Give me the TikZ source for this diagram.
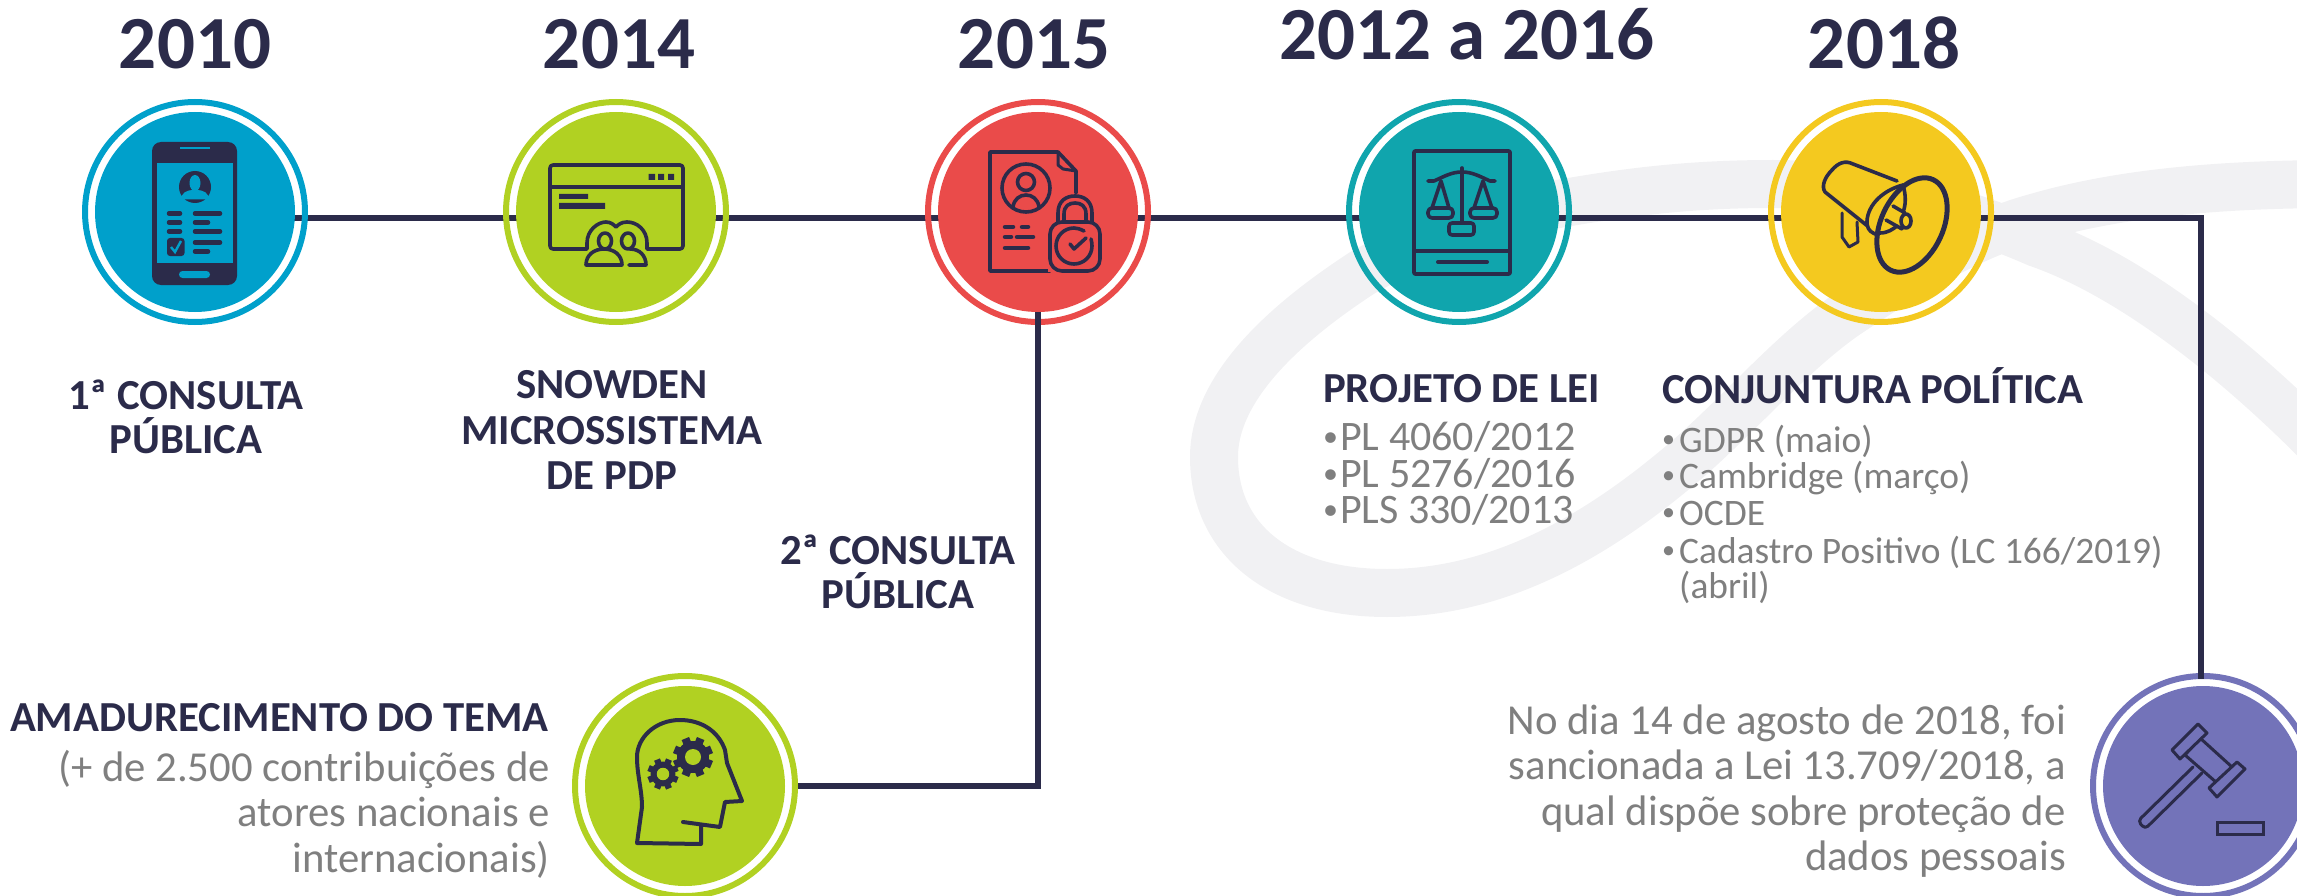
\documentclass[tikz,border=0pt]{standalone}
\usepackage{fontspec}
\setmainfont{Carlito}
\pgfdeclarelayer{back}
\pgfdeclarelayer{lines}
\pgfsetlayers{back,lines,main}
\definecolor{dk}{HTML}{2B2B4A}
\definecolor{gy}{HTML}{7F7F7F}
\definecolor{bandc}{HTML}{F1F1F3}
\definecolor{cblue}{HTML}{00A0CB}
\definecolor{cgreen}{HTML}{B1D122}
\definecolor{cred}{HTML}{EA4B4A}
\definecolor{cteal}{HTML}{10A5AD}
\definecolor{cyel}{HTML}{F4C91F}
\definecolor{cpur}{HTML}{7373B9}
\tikzset{
  x=1pt,y=-1pt,
  ring/.style={circle,draw=#1,line width=6pt,minimum size=220pt,inner sep=0pt,fill=none},
  disc/.style={circle,fill=#1,minimum size=200pt,inner sep=0pt,outer sep=0pt},
  conn/.style={draw=dk,line width=5.8pt},
  ic/.style={draw=dk,line width=3.6pt,line join=round,line cap=round},
  pill/.style={draw=dk,line width=4.5pt,line cap=round},
  yr/.style={anchor=base,inner sep=0pt,text=dk,font=\fontsize{75}{75}\selectfont\bfseries},
  hd/.style={inner sep=0pt,text=dk,font=\fontsize{42.8}{42.8}\selectfont\bfseries},
  bodyA/.style={inner sep=0pt,text=gy,anchor=base west,font=\fontsize{42}{42}\selectfont},
  bodyB/.style={inner sep=0pt,text=gy,anchor=base west,font=\fontsize{37.4}{37.4}\selectfont},
  bodyC/.style={inner sep=0pt,text=gy,anchor=base east,font=\fontsize{42.7}{42.7}\selectfont},
}
\newcommand{\bulA}{\makebox[17pt][l]{\raisebox{4pt}{\fontsize{30}{30}\selectfont •}}}
\newcommand{\bulB}{\makebox[17pt][l]{\raisebox{5pt}{\fontsize{26}{26}\selectfont •}}}
\newcommand{\gearshape}[4]{% x y R fillcolor
  \foreach \a in {0,45,...,315}{
    \fill[dk,rotate around={\a+22.5:(#1,#2)}] (#1-0.2*#3,#2-#3) rectangle (#1+0.2*#3,#2-0.6*#3);
  }
  \fill[dk] (#1,#2) circle[radius=0.8*#3];
  \fill[#4] (#1,#2) circle[radius=0.4*#3];
}
\begin{document}
\begin{tikzpicture}
\useasboundingbox (0,0) rectangle (2297,896);
\clip (0,0) rectangle (2297,896);
% background swoosh
\begin{pgfonlayer}{back}
\draw[bandc,line width=48pt,line cap=butt]
 (2340,465) .. controls (2240,360) and (2130,275) .. (2037,243)
 .. controls (1950,205) and (1860,184) .. (1773,184)
 .. controls (1700,184) and (1640,190) .. (1570,202)
 .. controls (1490,215) and (1420,240) .. (1362,273)
 .. controls (1290,320) and (1214,385) .. (1214,457)
 .. controls (1214,540) and (1280,593) .. (1387,593)
 .. controls (1500,593) and (1600,535) .. (1690,457)
 .. controls (1745,408) and (1790,355) .. (1843,317)
 .. controls (1905,275) and (1970,235) .. (2037,217)
 .. controls (2120,193) and (2220,184) .. (2340,184);
\end{pgfonlayer}
% circles
\foreach \n/\x/\y/\c in {1/195/212/cblue,2/616/212/cgreen,3/1038/212/cred,4/1459/212/cteal,5/1881/212/cyel,6/685/786/cgreen,7/2203/786/cpur}{
  \node[ring=\c] (r\n) at (\x,\y) {};
  \node[disc=\c] (c\n) at (\x,\y) {};
}
% connectors
\begin{pgfonlayer}{lines}
\draw[conn] ([yshift=-6pt]c1.center) -- ([yshift=-6pt]c2.center);
\draw[conn] ([yshift=-6pt]c2.center) -- ([yshift=-6pt]c3.center);
\draw[conn] ([yshift=-6pt]c3.center) -- ([yshift=-6pt]c4.center);
\draw[conn] ([yshift=-6pt]c4.center) -- ([yshift=-6pt]c5.center);
\draw[conn] ([yshift=-6pt]c5.center) -- ([yshift=-6pt]r5.east);
\end{pgfonlayer}
\draw[conn] (c3.south) |- (r6.east);
\coordinate (top7) at ([xshift=-2pt]r7.north);
\draw[conn,shorten >=-6pt,line join=miter] ([yshift=-6pt]r5.east) -| (top7);
% years
\node[yr] (y1) at (195,69) {2010};
\node[yr] (y2) at (619,69) {2014};
\node[yr] (y3) at (1034,69) {2015};
\node[yr] (y4) at (1467,60) {2012 a 2016};
\node[yr] (y5) at (1884,69) {2018};
% labels
\node[hd,anchor=base] (l1a) at (186,409) {1ª CONSULTA};
\node[hd,anchor=base] (l1b) at (186,453) {PÚBLICA};
\node[hd,anchor=base] (l2a) at (612,398) {SNOWDEN};
\node[hd,anchor=base] (l2b) at (612,444) {MICROSSISTEMA};
\node[hd,anchor=base] (l2c) at (612,489) {DE PDP};
\node[hd,anchor=base] (l3a) at (898,564) {2ª CONSULTA};
\node[hd,anchor=base] (l3b) at (898,608) {PÚBLICA};
\node[hd,anchor=base east] (l4) at (549,731) {AMADURECIMENTO DO TEMA};
\node[bodyC] (l4a) at (550,781) {(+ de 2.500 contribuições de};
\node[bodyC] (l4b) at (550,826) {atores nacionais e};
\node[bodyC] (l4c) at (550,872) {internacionais)};
\node[hd,anchor=base west] (pa) at (1323,402) {PROJETO DE LEI};
\node[bodyA] (pa1) at (1323,450) {\bulA PL 4060/2012};
\node[bodyA] (pa2) at (1323,487) {\bulA PL 5276/2016};
\node[bodyA] (pa3) at (1323,523) {\bulA PLS 330/2013};
\node[hd,anchor=base west] (cj) at (1662,403) {CONJUNTURA POLÍTICA};
\node[bodyB] (cj1) at (1662,452) {\bulB GDPR (maio)};
\node[bodyB] (cj2) at (1662,488) {\bulB Cambridge (março)};
\node[bodyB] (cj3) at (1662,525) {\bulB OCDE};
\node[bodyB] (cj4) at (1662,563) {\bulB Cadastro Positivo (LC 166/2019)};
\node[bodyB] (cj5) at (1662,598) {\makebox[17pt][l]{}(abril)};
\node[bodyC] (n1) at (2066,734) {No dia 14 de agosto de 2018, foi};
\node[bodyC] (n2) at (2066,779) {sancionada a Lei 13.709/2018, a};
\node[bodyC] (n3) at (2066,825) {qual dispõe sobre proteção de};
\node[bodyC] (n4) at (2066,870) {dados pessoais};
% ---- icon 1: phone
\fill[dk,rounded corners=9pt] (152,142) rectangle (237,285);
\fill[cblue] (180,147) rectangle (210,149.5);
\fill[cblue] (156.5,163) rectangle (233,263);
\fill[dk] (195,187) circle[radius=16];
\fill[cblue] (195,183) ellipse[x radius=5.5,y radius=8];
\fill[cblue,rounded corners=4pt] (181,199.5) -- (181,195) -- (188,190) -- (202,190) -- (209,195) -- (209,199.5) -- cycle;
\foreach \yy in {213.5,222.5,231.5}{\draw[pill] (169,\yy) -- (180,\yy);}
\draw[pill] (195,213.5) -- (220,213.5);
\draw[pill] (195,222.5) -- (208,222.5);
\draw[pill] (195,231.5) -- (220,231.5);
\draw[pill] (195,242.5) -- (220,242.5);
\draw[pill] (195,251.5) -- (208,251.5);
\fill[dk,rounded corners=3pt] (167,238) rectangle (184.5,256);
\draw[cblue,line width=2.4pt] (171,247) -- (175,252) -- (181,241);
\fill[cblue,rounded corners=3.5pt] (179,271) rectangle (210,278);
% ---- icon 2: browser
\draw[ic,rounded corners=3pt] (587,249) -- (550,249) -- (550,165) -- (683,165) -- (683,249) -- (647,249);
\draw[ic] (550,187) -- (683,187);
\fill[dk] (648.5,174) rectangle (655,180) (658,174) rectangle (664,180) (668,174) rectangle (674,180);
\fill[dk] (559,194) rectangle (588,199) (559,203) rectangle (605,209);
\fill[cgreen] (587,240) -- (587,266) -- (647,266) -- (647,240) -- cycle;
\draw[ic] (587,249) -- (587,243) .. controls (587,230) and (598,222) .. (606,222)
  .. controls (611,222) and (614,225) .. (616,227)
  .. controls (618,225) and (621,222) .. (627,222)
  .. controls (637,222) and (647,230) .. (647,243) -- (647,249);
\draw[ic] (605,241) ellipse[x radius=6.5,y radius=8];
\draw[ic] (628,241) ellipse[x radius=6.5,y radius=8];
\draw[ic] (586,265) .. controls (586,255) and (594,249) .. (604,249) .. controls (614,249) and (622,255) .. (622,265) -- cycle;
\draw[ic] (629,265) -- (646,265) .. controls (646,256) and (640,249) .. (630,249);
% ---- icon 3: document and lock
\draw[ic] (1050,271) -- (990,271) -- (990,152) -- (1058,152) -- (1076,171) -- (1076,193);
\draw[ic,line width=3pt] (1058,153) -- (1058,165) -- (1063,169) -- (1076,171);
\draw[ic] (1026,188) circle[radius=24];
\draw[ic] (1026,182) circle[radius=8.5];
\draw[ic] (1013,207) .. controls (1014,199) and (1020,195) .. (1026,195) .. controls (1032,195) and (1038,199) .. (1039,207);
\draw[pill] (1005,227) -- (1013,227);
\draw[pill] (1022,227) -- (1028,227);
\draw[pill] (1005,237) -- (1011,237);
\draw[pill] (1017,237) -- (1033,237);
\draw[pill] (1005,248) -- (1028,248);
\fill[cred] (1048,222) rectangle (1101,272);
\draw[ic,fill=cred,rounded corners=12pt] (1050,222) rectangle (1100,271);
\draw[ic] (1058,222) -- (1058,213) .. controls (1058,201) and (1066,196) .. (1075,196) .. controls (1084,196) and (1092,201) .. (1092,213) -- (1092,222);
\draw[ic] (1064,222) -- (1064,214) .. controls (1064,206) and (1069,203) .. (1075,203) .. controls (1081,203) and (1086,206) .. (1086,214) -- (1086,222);
\draw[ic] (1084,231) .. controls (1080,229) and (1077,228) .. (1074,228) .. controls (1064,228) and (1056,236) .. (1056,246)
  .. controls (1056,256) and (1064,264) .. (1074,264) .. controls (1084,264) and (1092,256) .. (1092,246) .. controls (1092,243) and (1091.5,241) .. (1091,239);
\draw[ic] (1070,244) -- (1074,249) -- (1086,238);
% ---- icon 4: book and scales
\draw[ic,rounded corners=1pt] (1414,151) rectangle (1510,274);
\draw[ic] (1414,251) -- (1510,251);
\draw[pill,line width=4pt] (1438,262) -- (1487,262);
\draw[ic] (1462,168) -- (1462,223);
\draw[ic,rounded corners=3pt] (1449,223) rectangle (1474,235);
\draw[ic] (1428,181) -- (1434,181) .. controls (1445,176) and (1452,172) .. (1462,172) .. controls (1472,172) and (1479,176) .. (1490,181) -- (1495,181);
\draw[ic] (1432,208) -- (1441,181) -- (1449,208);
\draw[ic] (1474,208) -- (1483,181) -- (1492,208);
\draw[ic,rounded corners=4pt] (1428,208) -- (1453,208) -- (1453,218) -- (1428,218) -- cycle;
\draw[ic,rounded corners=4pt] (1470,208) -- (1497,208) -- (1497,218) -- (1470,218) -- cycle;
% ---- icon 5: megaphone
\draw[ic,line width=3pt,fill=cyel] (1842,213) -- (1842,237) -- (1849,247) -- (1858,242) -- (1857,222);
\draw[ic,fill=cyel] (1897,181) -- (1853,164) .. controls (1845,160) and (1838,163) .. (1832,170)
  .. controls (1825,177) and (1821,186) .. (1825,192) -- (1870,228);
\draw[ic,fill=cyel] (1903,185) .. controls (1880,191) and (1866,208) .. (1867,224) .. controls (1868,231) and (1872,233) .. (1878,235);
\draw[ic] (1893,206) -- (1905,213);
\draw[ic] (1886,220) -- (1902,229);
\draw[ic] (1880,233) .. controls (1888,233) and (1893,229) .. (1897,226);
\draw[ic] (1903,185) .. controls (1906,195) and (1906,205) .. (1903,212);
\draw[ic,fill=cyel] (1906,221) ellipse[x radius=5,y radius=7];
\draw[ic,line width=5pt,rotate around={-25:(1912,225)}] (1912,225) ellipse[x radius=31,y radius=50];
% ---- icon 6: head with gears
\draw[ic,line width=4pt,line cap=round] (683,822) -- (720,827) -- (725,802) -- (742,801) -- (727,763) -- (725,750)
  .. controls (718,730) and (700,720) .. (680,720) .. controls (655,720) and (637,738) .. (637,757)
  .. controls (637,775) and (642,790) .. (642,807) -- (637,843) -- (701,844) -- (701,826);
\gearshape{693}{757}{20}{cgreen}
\gearshape{663}{774}{15.6}{cgreen}
% ---- icon 7: gavel
\draw[ic,line width=3pt] (2200,738) -- (2232,767) -- (2217,783) -- (2185,755) -- cycle;
\draw[ic,line width=3pt,fill=cpur] (2198,724) -- (2207,733) -- (2180,759) -- (2172,750) -- cycle;
\draw[ic,line width=3pt,fill=cpur] (2237,762) -- (2245,769) -- (2217,797) -- (2209,788) -- cycle;
\draw[ic,line width=3pt,rounded corners=4pt] (2193,767) -- (2138,821) -- (2145,829) -- (2202,773);
\draw[ic,line width=3pt,line join=miter] (2217,822) rectangle (2263,834);
\end{tikzpicture}
\end{document}
